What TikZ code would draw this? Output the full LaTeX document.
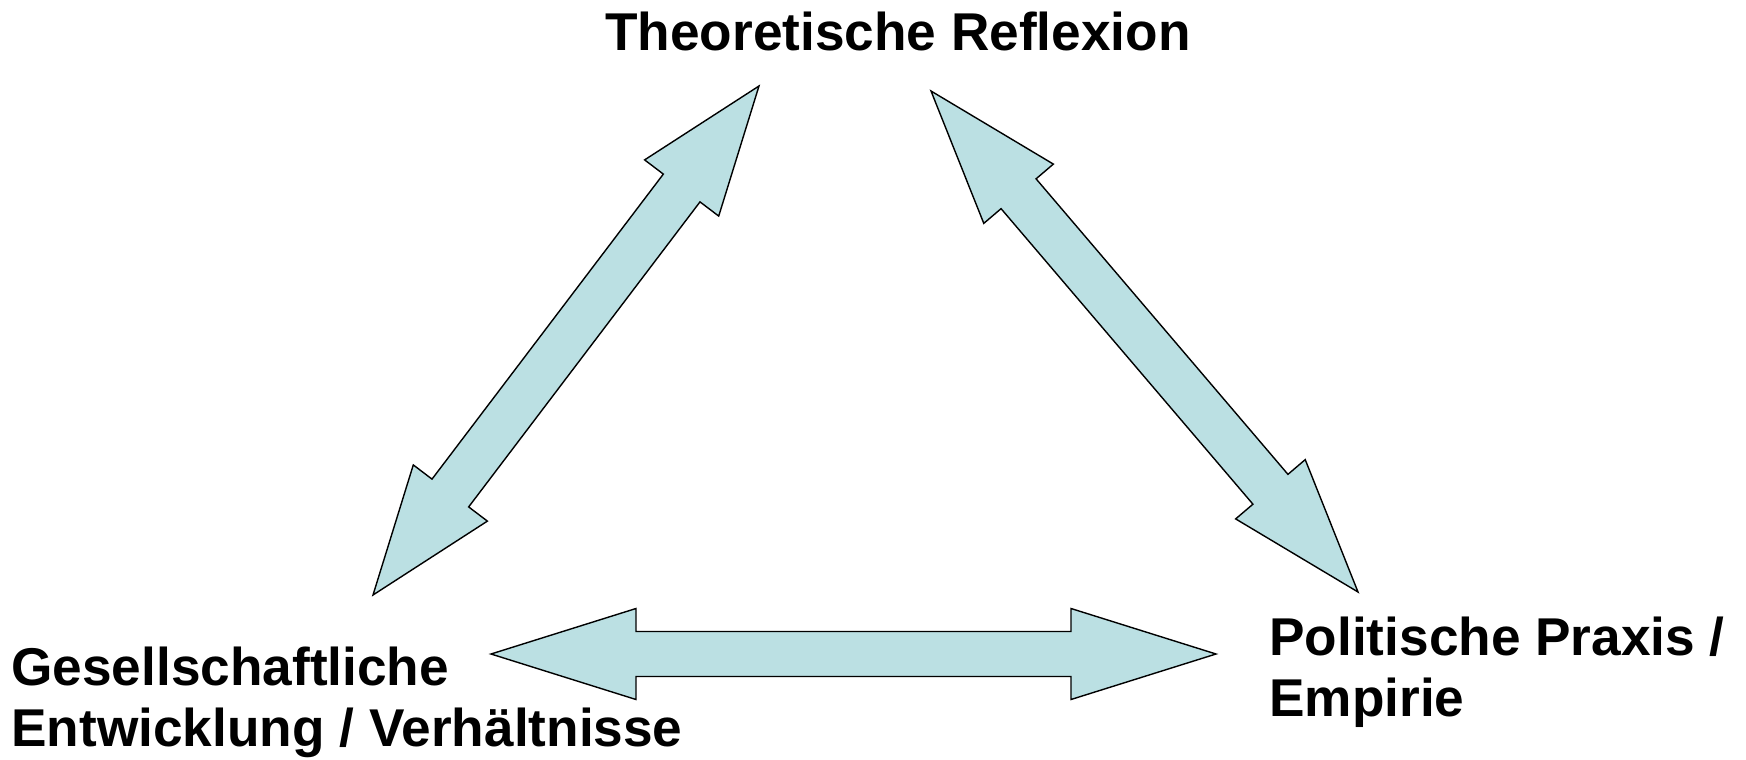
\documentclass[tikz,border=0pt]{standalone}
\usepackage{fontspec}
\setmainfont{Liberation Sans}
\usepackage{tikz}
\usetikzlibrary{calc,positioning}

\definecolor{freccia}{RGB}{187,224,227}

% #1,#2 punte, #3 lunghezza punta, #4 mezza larghezza punta, #5 mezza larghezza asta
\newcommand{\doppiafreccia}[5]{%
  \draw[blockarrow] (#1)
    -- ($(#1)!#3!(#2)!#4!90:(#2)$) -- ($(#1)!#3!(#2)!#5!90:(#2)$)
    -- ($(#2)!#3!(#1)!#5!-90:(#1)$) -- ($(#2)!#3!(#1)!#4!-90:(#1)$)
    -- (#2)
    -- ($(#2)!#3!(#1)!#4!90:(#1)$) -- ($(#2)!#3!(#1)!#5!90:(#1)$)
    -- ($(#1)!#3!(#2)!#5!-90:(#2)$) -- ($(#1)!#3!(#2)!#4!-90:(#2)$)
    -- cycle;}

\begin{document}
\begin{tikzpicture}[x=0.5pt, y=-0.5pt,
    lbl/.style={font=\fontsize{26.6}{30.5}\selectfont\bfseries, inner sep=0pt},
    blockarrow/.style={draw=black, line width=0.7pt, fill=freccia, line join=miter}]

    \useasboundingbox (0,0) rectangle (1746,760);

    \node[lbl, anchor=base] (theorie) at (898,50) {Theoretische Reflexion};
    % base = ultima riga
    \node[lbl, anchor=base west, align=left] (gesell) at (11,746) {Gesellschaftliche\\Entwicklung / Verh\"altnisse};
    \node[lbl, anchor=base west, align=left] (praxis) at (1269,716) {Politische Praxis /\\Empirie};

    \coordinate (theorie-g) at (759,86);
    \coordinate (gesell-t) at (373,595);
    \coordinate (theorie-p) at (931,91);
    \coordinate (praxis-t) at (1358,592);
    \coordinate (gesell-p) at (491,654);
    \coordinate (praxis-g) at (1216,654);

    % frecce doppie
    \doppiafreccia{theorie-g}{gesell-t}{64pt}{23.25pt}{11.5pt}
    \doppiafreccia{theorie-p}{praxis-t}{67.5pt}{22.85pt}{11.5pt}
    \doppiafreccia{gesell-p}{praxis-g}{72.5pt}{22.75pt}{11.25pt}

\end{tikzpicture}
\end{document}
